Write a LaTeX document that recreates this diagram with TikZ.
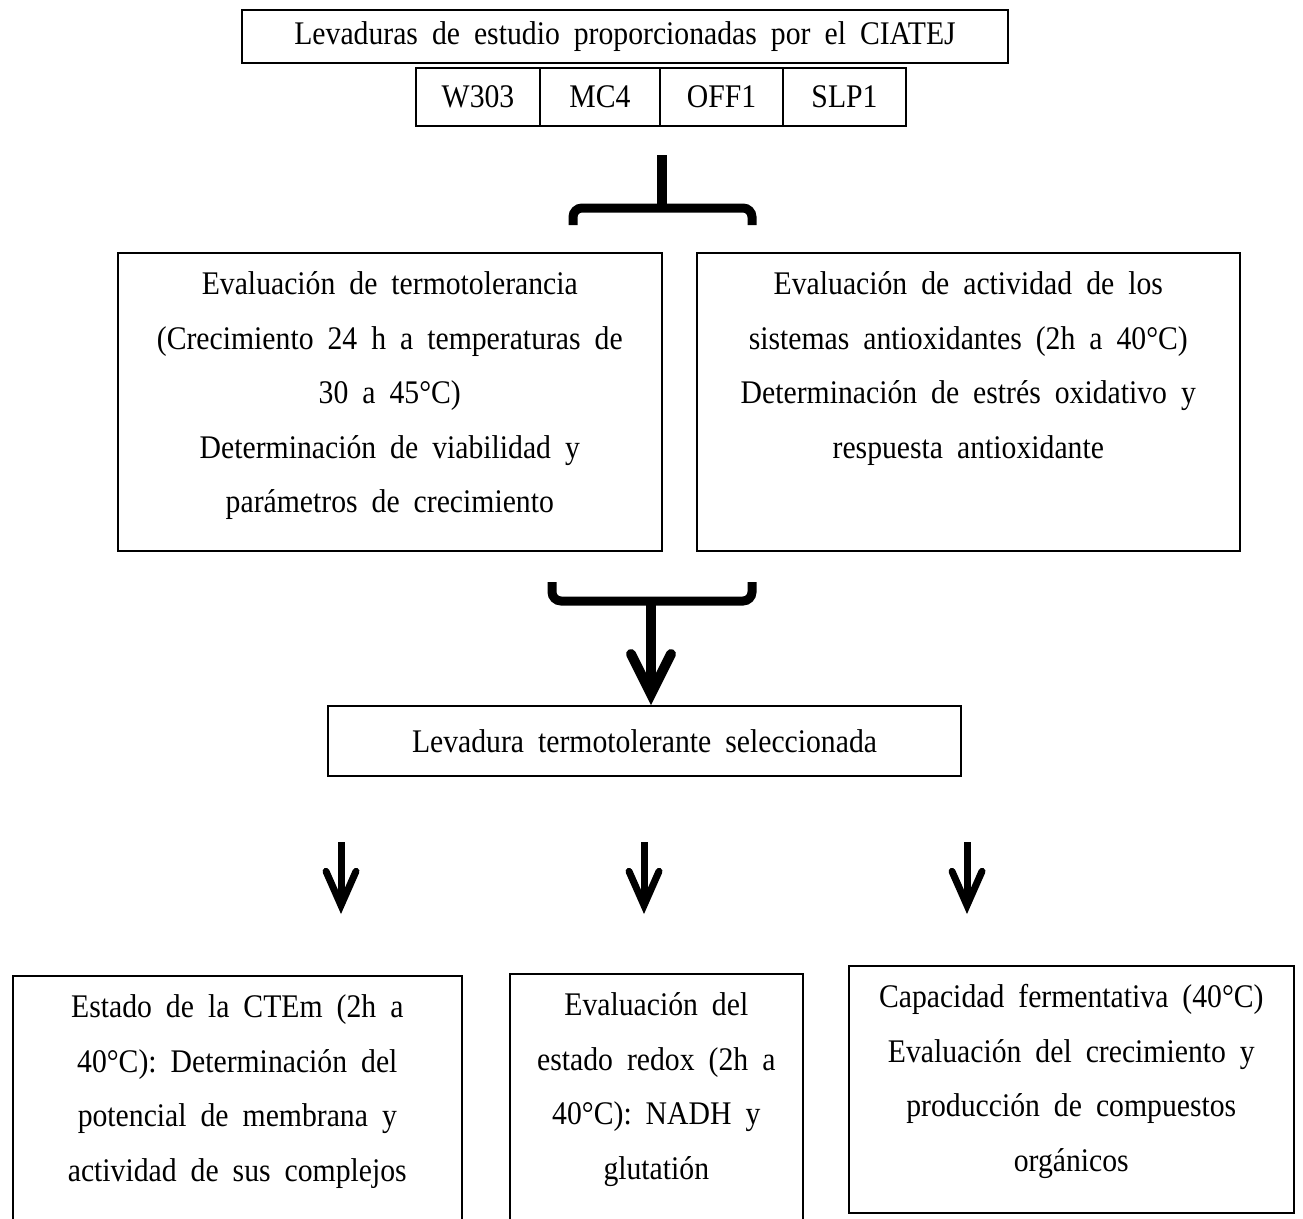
\documentclass[tikz,border=0pt]{standalone}
\usepackage{fontspec}
\setmainfont[FakeStretch=0.9]{Liberation Serif}
\usetikzlibrary{arrows.meta}
\newcommand\bfont{\fontsize{33}{54.5}\selectfont\spaceskip=14pt\relax}
\newcommand\topbox[3]{\parbox[c][#2][t]{#1}{\centering\bfont\rule{0pt}{42pt}#3\par}}
\tikzset{
  box/.style={draw, line width=1.6pt, inner sep=0pt, font=\bfont, align=center},
  bigarr/.style={line width=10pt, -{Straight Barb[length=40pt,width=40pt,line cap=round,line join=miter]}},
  smallarr/.style={line width=7pt, -{Straight Barb[length=34pt,width=30pt,line cap=round,line join=miter]}},
  bracepath/.style={line width=9pt, rounded corners=9pt},
}
\begin{document}
\begin{tikzpicture}[x=1pt,y=-1pt]
\useasboundingbox (0,0) rectangle (1303,1218);
\clip (0,0) rectangle (1303,1218);
% top
\node[box, minimum width=766pt, minimum height=53pt] (src) at (625,36.5) {Levaduras de estudio proporcionadas por el CIATEJ};
\node[box, minimum width=124pt, minimum height=58pt] (w303) at (478,97) {W303};
\node[box, minimum width=120pt, minimum height=58pt] (mc4) at (600,97) {MC4};
\node[box, minimum width=123pt, minimum height=58pt] (off1) at (721.5,97) {OFF1};
\node[box, minimum width=123pt, minimum height=58pt] (slp1) at (844.5,97) {SLP1};
% top bracket
\coordinate (tstem) at (662,155);
\coordinate (tjoin) at (662,208);
\coordinate (tl) at (573,225);
\coordinate (tr) at (752,225);
\draw[line width=10pt] (tstem) -- (tjoin);
\draw[bracepath] (tl) -- (tl |- tjoin) -- (tr |- tjoin) -- (tr);
% evaluation boxes
\node[box, anchor=north west] (termo) at (117,252) {\topbox{544pt}{298pt}{Evaluación de termotolerancia\\(Crecimiento 24 h a temperaturas de\\30 a 45°C)\\Determinación de viabilidad y\\parámetros de crecimiento}};
\node[box, anchor=north west] (antiox) at (696,252) {\topbox{543pt}{298pt}{Evaluación de actividad de los\\sistemas antioxidantes (2h a 40°C)\\Determinación de estrés oxidativo y\\respuesta antioxidante}};
% bottom bracket
\coordinate (bl) at (552,582);
\coordinate (br) at (752,582);
\coordinate (bjoin) at (651,601);
\draw[bracepath] (bl) -- (bl |- bjoin) -- (br |- bjoin) -- (br);
% selected
\node[box, minimum width=633pt, minimum height=70pt] (sel) at (644.5,741) {Levadura termotolerante seleccionada};
\draw[bigarr] (bjoin) -- (bjoin |- sel.north);
% small arrows
\coordinate (a1) at (341,842); \coordinate (e1) at (341,914);
\coordinate (a2) at (644,842); \coordinate (e2) at (644,914);
\coordinate (a3) at (967,842); \coordinate (e3) at (967,914);
\draw[smallarr] (a1) -- (e1);
\draw[smallarr] (a2) -- (e2);
\draw[smallarr] (a3) -- (e3);
% bottom boxes
\node[box, anchor=north west] (cte) at (12,975) {\topbox{449pt}{300pt}{Estado de la CTEm (2h a\\40°C): Determinación del\\potencial de membrana y\\actividad de sus complejos}};
\node[box, anchor=north west] (redox) at (509,973) {\topbox{293pt}{300pt}{Evaluación del\\estado redox (2h a\\40°C): NADH y\\glutatión}};
\node[box, anchor=north west] (ferm) at (848,965) {\topbox{445pt}{247pt}{Capacidad fermentativa (40°C)\\Evaluación del crecimiento y\\producción de compuestos\\orgánicos}};
\end{tikzpicture}
\end{document}
